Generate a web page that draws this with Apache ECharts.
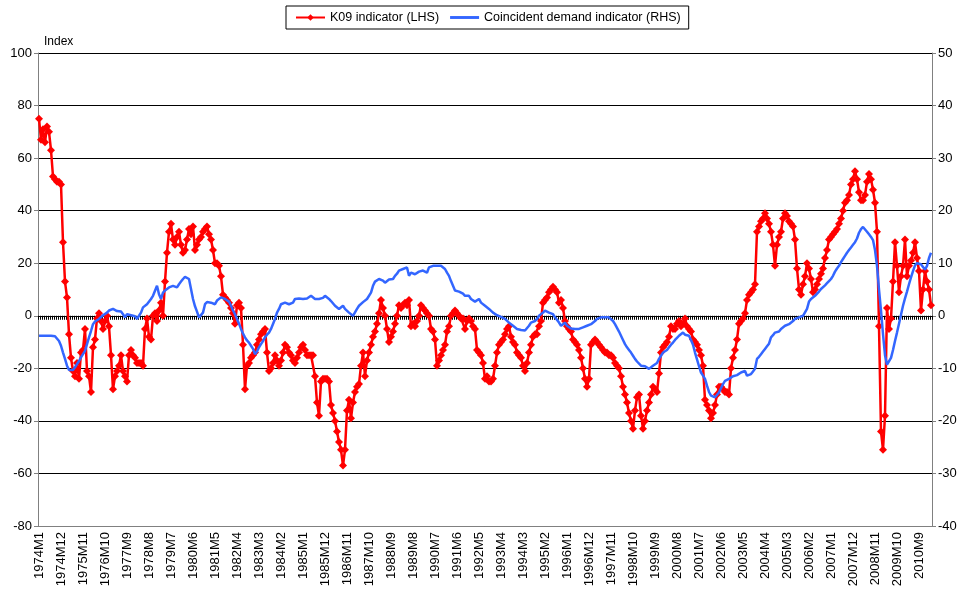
<!DOCTYPE html>
<html>
<head>
<meta charset="utf-8">
<script src="https://cdn.jsdelivr.net/npm/echarts@6/dist/echarts.min.js"></script>
<style>
  html, body { margin: 0; padding: 0; background: #fff; }
  #main { width: 963px; height: 590px; }
</style>
</head>
<body>
<div id="main"></div>
<script>
// monthly categories 1974M1 .. 2011M3
var months = [];
for (var y = 1974; y <= 2011; y++) {
  for (var m = 1; m <= 12; m++) {
    months.push(y + 'M' + m);
  }
}
months = months.slice(0, 447);

// K09 indicator (LHS), one row per year
var k09 = [].concat(
  [75, 67, 71, 66, 72, 70, 63, 53, 52, 51, 51, 50],
  [28, 13, 7, -7, -16, -21, -23, -18, -24, -14, -13, -5],
  [-21, -23, -29, -12, -9, -1, 1, -2, -5, -2, 0, -4],
  [-15, -28, -23, -21, -19, -15, -21, -23, -25, -15, -13, -15],
  [-16, -18, -18, -18, -19, -5, -1, -8, -9, 0, 1, -2],
  [2, 5, 0, 13, 24, 32, 35, 29, 27, 30, 32, 27],
  [24, 25, 29, 33, 31, 34, 25, 27, 29, 30, 32, 33],
  [34, 31, 29, 25, 20, 20, 19, 15, 8, 7, 6, 5],
  [3, 1, -3, 4, 5, 3, -11, -28, -19, -18, -16, -15],
  [-14, -11, -9, -7, -6, -5, -14, -21, -20, -18, -15, -17],
  [-19, -17, -14, -11, -12, -14, -15, -17, -18, -16, -14, -12],
  [-11, -13, -15, -15, -15, -15, -23, -33, -38, -25, -24, -24],
  [-24, -25, -34, -37, -40, -44, -48, -51, -57, -51, -36, -32],
  [-39, -33, -29, -27, -26, -19, -14, -23, -17, -14, -11, -8],
  [-6, -3, 1, 6, 3, 0, -5, -10, -8, -6, -3, 0],
  [4, 3, 4, 5, 4, 6, -4, -3, -4, -2, 0, 4],
  [3, 2, 1, 0, -5, -6, -9, -19, -17, -15, -13, -11],
  [-6, -4, 0, 1, 2, 1, 0, -1, -1, -5, -2, -1],
  [-2, -4, -5, -13, -14, -15, -18, -24, -23, -25, -25, -24],
  [-19, -14, -11, -10, -9, -7, -5, -4, -8, -10, -11, -14],
  [-15, -16, -19, -21, -18, -14, -11, -8, -7, -7, -4, -2],
  [5, 6, 7, 9, 10, 11, 10, 9, 5, 6, 3, -2],
  [-4, -5, -6, -9, -10, -11, -13, -16, -20, -24, -27, -24],
  [-11, -10, -9, -10, -11, -12, -13, -14, -14, -15, -15, -16],
  [-18, -19, -20, -23, -27, -30, -33, -37, -40, -43, -36, -31],
  [-30, -38, -43, -40, -36, -33, -30, -27, -28, -29, -22, -14],
  [-12, -11, -10, -8, -4, -5, -5, -3, -2, -4, -3, -1],
  [-4, -5, -6, -9, -10, -11, -13, -15, -19, -32, -34, -36],
  [-39, -37, -34, -30, -27, -27, -28, -29, -29, -30, -20, -16],
  [-13, -9, -3, -2, -1, 1, 6, 8, 9, 10, 12, 32],
  [34, 36, 37, 39, 37, 35, 32, 27, 19, 27, 30, 32],
  [37, 39, 38, 36, 35, 34, 29, 18, 10, 8, 12, 15],
  [20, 18, 14, 9, 10, 12, 14, 16, 18, 22, 25, 29],
  [30, 31, 32, 33, 35, 37, 40, 43, 44, 46, 50, 52],
  [55, 52, 47, 44, 44, 46, 51, 54, 52, 48, 43, 32],
  [-4, -44, -51, -38, 3, -5, -1, 13, 28, 19, 9, 15],
  [19, 29, 15, 19, 21, 24, 28, 22, 17, 2, 10, 17],
  [13, 10, 4]
);

// Coincident demand indicator (RHS)
var demand = [].concat(
  [-3.8, -3.8, -3.8, -3.8, -3.8, -3.8, -3.8, -3.8, -3.9, -4.1, -4.8, -5.7],
  [-7.0, -8.2, -9.5, -10.3, -10.6, -10.3, -9.8, -9.2, -8.6, -7.9, -7.3, -6.7],
  [-5.4, -4.1, -2.9, -1.6, -1.1, -0.8, -0.6, -0.3, 0.1, 0.3, 0.6, 1.0],
  [1.1, 1.3, 1.1, 0.9, 0.6, 0.8, 0.3, -0.3, 0.3, 0.6, 0.1, 0.3],
  [-0.1, -0.6, 0, 0.6, 1.6, 1.3, 2.2, 2.5, 3.2, 3.8, 3.5, 5.7],
  [4.1, 3.2, 4.4, 4.8, 5.1, 5.4, 5.5, 5.7, 5.7, 5.4, 6.0, 6.5],
  [7.0, 7.4, 7.6, 7.0, 5.1, 3.2, 1.8, 0.8, -0.3, -0.6, 0.6, 2.2],
  [2.6, 2.9, 2.5, 2.4, 2.2, 2.9, 3.2, 3.5, 3.3, 3.2, 3.2, 2.7],
  [1.9, 1.0, 0.3, -0.6, -1.5, -2.5, -3.4, -4.1, -4.7, -5.1, -5.7, -6.3],
  [-7.3, -6.8, -6.0, -5.4, -4.8, -4.1, -3.6, -3.2, -2.5, -2.2, -0.6, 0.6],
  [1.3, 2.2, 2.4, 2.5, 2.3, 2.2, 1.9, 2.5, 3.2, 3.2, 3.3, 3.3],
  [3.2, 3.2, 3.3, 3.5, 3.8, 4.1, 3.2, 3.2, 3.2, 3.3, 3.4, 3.8],
  [3.5, 3.2, 2.8, 2.5, 1.9, 1.6, 1.3, 1.6, 1.9, 1.3, 1.0, 0.6],
  [0.3, 0, -0.3, 1.3, 1.9, 2.2, 2.6, 2.9, 3.2, 3.5, 4.4, 5.7],
  [6.5, 6.7, 7.0, 6.9, 6.7, 6.3, 6.6, 6.9, 7.2, 7.0, 7.6, 8.0],
  [8.6, 8.8, 8.9, 9.2, 9.2, 7.6, 8.2, 8.5, 7.9, 8.2, 8.4, 8.6],
  [8.6, 8.4, 8.2, 9.2, 9.5, 9.5, 9.5, 9.5, 9.5, 9.5, 9.5, 8.9],
  [8.2, 7.6, 6.6, 5.7, 4.8, 4.7, 4.6, 4.4, 4.2, 3.8, 3.8, 3.8],
  [3.2, 2.9, 2.7, 2.5, 3.2, 2.5, 2.2, 1.9, 1.6, 1.3, 1.0, 0.6],
  [0.3, 0.1, 0, -0.2, -0.3, -0.6, -0.9, -1.3, -1.6, -1.9, -2.2, -2.5],
  [-2.5, -2.7, -2.9, -2.8, -2.5, -1.9, -1.3, -1.1, -1.0, -0.6, 0, 0.3],
  [0.6, 1.0, 1.3, 0.6, 0.6, 0.3, -0.3, -0.6, -1.3, -1.9, -1.9, -1.3],
  [-1.9, -2.2, -2.4, -2.5, -2.5, -2.5, -2.5, -2.5, -2.2, -2.2, -1.9, -1.7],
  [-1.6, -1.3, -1.0, -0.6, -0.5, -0.3, -0.3, -0.3, -0.3, -0.3, -0.6, -1.0],
  [-1.6, -1.9, -3.0, -3.8, -4.6, -5.4, -6.0, -6.5, -7.0, -7.6, -8.2, -8.7],
  [-9.0, -9.5, -9.8, -9.6, -9.6, -10.1, -9.8, -9.5, -9.3, -9.0, -8.2, -7.6],
  [-7.0, -6.8, -6.5, -6.0, -5.5, -5.1, -4.6, -4.2, -3.8, -3.5, -3.2, -3.6],
  [-3.5, -3.8, -4.6, -5.5, -7.0, -8.3, -9.6, -10.8, -11.4, -12.0, -13.3, -14.5],
  [-15.2, -15.4, -15.5, -15.2, -14.6, -13.8, -13.0, -12.4, -12.2, -12.0, -11.7, -11.5],
  [-11.3, -11.3, -11.1, -10.8, -10.6, -10.5, -11.4, -11.2, -11.1, -10.6, -10.1, -8.2],
  [-7.8, -7.3, -6.8, -6.3, -5.8, -5.3, -4.1, -3.7, -3.2, -3.3, -3.0, -2.5],
  [-2.2, -1.9, -1.7, -1.6, -1.3, -1.0, -0.6, -0.5, -0.3, -0.1, 0, 0.3],
  [1.3, 2.7, 3.2, 3.5, 3.8, 4.1, 4.6, 5.1, 5.4, 5.8, 6.2, 6.6],
  [7.0, 7.6, 8.4, 9.0, 9.5, 10.2, 10.8, 11.4, 12.0, 12.5, 13.0, 13.5],
  [14.0, 14.7, 15.8, 16.5, 16.9, 16.6, 16.0, 15.5, 15.0, 14.4, 12.5, 9.5],
  [5.0, 1.0, -3.5, -7.5, -9.3, -9.0, -8.0, -6.5, -4.8, -3.2, -1.5, 0.2],
  [1.9, 3.3, 4.6, 6.0, 7.3, 8.5, 9.6, 10.0, 9.8, 9.8, 9.3, 8.8],
  [9.5, 11.0, 12.0]
);

var font = "'Liberation Sans', Arial, sans-serif";

var myChart = echarts.init(document.getElementById('main'));

var option = {
  animation: false,
  backgroundColor: '#fff',
  title: {
    text: 'Index',
    left: 39,
    top: 31,
    textStyle: { fontFamily: font, fontSize: 12, fontWeight: 'normal', color: '#000' }
  },
  legend: {
    top: 6,
    left: 286,
    data: [
      { name: 'K09 indicator (LHS)' },
      { name: 'Coincident demand indicator (RHS)', icon: 'path://M0,0 L30,0 L30,3 L0,3 Z' }
    ],
    borderColor: '#000',
    borderWidth: 1,
    padding: [5, 8, 5, 9],
    itemGap: 11,
    itemWidth: 29,
    itemHeight: 8,
    textStyle: { fontFamily: font, fontSize: 12.5, color: '#000' }
  },
  grid: { left: 38, right: 31, top: 53, bottom: 64 },
  xAxis: [{
    type: 'category',
    data: months,
    boundaryGap: true,
    position: 'bottom',
    axisLine: { onZero: false, lineStyle: { color: '#808080' } },
    axisTick: { show: false },
    axisLabel: {
      interval: 10,
      rotate: 90,
      margin: 6,
      fontFamily: font,
      fontSize: 13,
      color: '#000'
    },
    splitLine: { show: false }
  }, {
    // category axis drawn across zero, with a tick for every month
    type: 'category',
    data: months,
    boundaryGap: true,
    position: 'bottom',
    axisLine: { onZero: true, lineStyle: { color: '#000', width: 1 } },
    axisTick: { show: true, interval: 0, length: 4, lineStyle: { color: '#000' } },
    axisLabel: { show: false },
    splitLine: { show: false }
  }],
  yAxis: [{
    type: 'value',
    min: -80,
    max: 100,
    interval: 20,
    axisLine: { show: true, lineStyle: { color: '#808080' } },
    axisTick: { show: true, length: 4, lineStyle: { color: '#808080' } },
    axisLabel: { fontFamily: font, fontSize: 13, color: '#000', margin: 6 },
    splitLine: { lineStyle: { color: '#000', width: 1 } }
  }, {
    type: 'value',
    min: -40,
    max: 50,
    interval: 10,
    axisLine: { show: true, lineStyle: { color: '#808080' } },
    axisTick: { show: true, length: 4, lineStyle: { color: '#808080' } },
    axisLabel: { fontFamily: font, fontSize: 13, color: '#000', margin: 6 },
    splitLine: { show: false }
  }],
  series: [{
    name: 'K09 indicator (LHS)',
    type: 'line',
    xAxisIndex: 0,
    yAxisIndex: 0,
    data: k09,
    symbol: 'diamond',
    symbolSize: 8,
    showAllSymbol: true,
    itemStyle: { color: '#ff0000' },
    lineStyle: { color: '#ff0000', width: 2.5 },
    z: 3
  }, {
    name: 'Coincident demand indicator (RHS)',
    type: 'line',
    xAxisIndex: 0,
    yAxisIndex: 1,
    data: demand,
    symbol: 'none',
    itemStyle: { color: '#3366ff' },
    lineStyle: { color: '#3366ff', width: 2.5 },
    z: 4
  }]
};

myChart.setOption(option);
</script>
</body>
</html>
